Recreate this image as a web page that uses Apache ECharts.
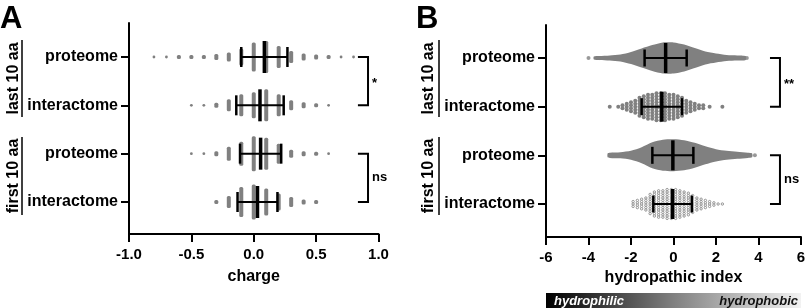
<!DOCTYPE html>
<html>
<head>
<meta charset="utf-8">
<script src="https://cdn.jsdelivr.net/npm/echarts@6/dist/echarts.min.js"></script>
<style>
  html, body { margin: 0; padding: 0; background: #fff; }
  #chart { width: 810px; height: 308px; }
</style>
</head>
<body>
<div id="chart"></div>
<script>
const rowNames = ['proteome', 'interactome', 'proteome', 'interactome']
const groupNames = ['last 10 aa', 'first 10 aa']

// A: net charge, number of dots stacked at each charge value
const chargeValues = [-0.8, -0.7, -0.6, -0.5, -0.4, -0.3, -0.2, -0.1, 0, 0.1, 0.2, 0.3, 0.4, 0.5, 0.6, 0.7, 0.8]
const chargeLastProteome = [1, 1, 2, 2, 2, 4, 7, 15, 27, 30, 20, 10, 5, 3, 2, 1, 1]
const chargeLastInteractome = [0, 0, 0, 1, 1, 3, 10, 20, 24, 30, 20, 8, 4, 2, 1, 0, 0]
const chargeFirstProteome = [0, 0, 0, 1, 1, 3, 12, 22, 33, 30, 18, 6, 3, 2, 1, 0, 0]
const chargeFirstInteractome = [0, 0, 0, 0, 0, 2, 10, 28, 33, 25, 15, 8, 3, 2, 0, 0, 0]
const chargeMean = [0.085, 0.05, 0.055, 0.03]
const chargeSD = [0.185, 0.19, 0.165, 0.16]

// B: hydropathic index, proteome rows as density outline (% of max)
const hydroLastProteomeX = [-3.75, -3.5, -3.0, -2.5, -2.0, -1.5, -1.0, -0.5, 0, 0.5, 1.0, 1.5, 2.0, 2.5, 3.0, 3.4]
const hydroLastProteomeD = [9, 12, 16, 22, 38, 60, 81, 97, 97, 84, 62, 40, 28, 19, 16, 12]
const hydroLastProteomeOut = [-4.0, 3.45]
const hydroFirstProteomeX = [-3.1, -3.0, -2.5, -2.0, -1.5, -1.0, -0.5, 0, 0.5, 1.0, 1.5, 2.0, 2.5, 3.0, 3.5, 3.7]
const hydroFirstProteomeD = [12, 16, 19, 28, 50, 81, 97, 100, 94, 78, 56, 38, 28, 22, 16, 12]
const hydroFirstProteomeOut = [3.83]
// B: interactome rows, dot counts per 0.2 bin
const hydroLastInterX = [-3.0, -2.6, -2.4, -2.2, -2.0, -1.8, -1.6, -1.4, -1.2, -1.0, -0.8, -0.6, -0.4, -0.2, 0.0, 0.2, 0.4, 0.6, 0.8, 1.0, 1.2, 1.4, 1.7, 2.3]
const hydroLastInterN = [1, 1, 2, 3, 4, 5, 7, 8, 9, 9, 10, 10, 10, 9, 9, 8, 7, 5, 4, 3, 2, 2, 1, 1]
const hydroFirstInterX = [-1.9, -1.7, -1.5, -1.3, -1.1, -0.9, -0.7, -0.5, -0.3, -0.1, 0.1, 0.3, 0.5, 0.7, 0.9, 1.1, 1.3, 1.5, 1.7, 1.9, 2.1, 2.3]
const hydroFirstInterN = [3, 4, 5, 6, 9, 11, 12, 12, 13, 13, 13, 12, 11, 10, 8, 6, 5, 4, 3, 2, 1, 1]
const hydroMean = [-0.37, -0.55, -0.03, -0.045]
const hydroSD = [0.99, 0.95, 0.965, 0.905]

const FONT = '"Liberation Sans", Arial, sans-serif'
const GRAY = '#808080'
const yRangeA = [-0.703, 3.662]
const yRangeB = [-0.678, 3.678]

function stackData (xs, counts, row) {
  let out = []
  xs.forEach((x, i) => { if (counts[i] > 0) out.push([x, row, counts[i]]) })
  return out
}

function chargeStacks (data) {
  return {
    type: 'custom', xAxisIndex: 0, yAxisIndex: 0, z: 2, silent: true,
    data: data,
    renderItem (params, api) {
      let p = api.coord([api.value(0), api.value(1)])
      let n = api.value(2)
      if (n <= 1) {
        return { type: 'circle', shape: { cx: p[0], cy: p[1], r: 1.4 }, style: { fill: GRAY } }
      }
      let h = n + 2
      return { type: 'rect', shape: { x: p[0] - 2, y: p[1] - h / 2, width: 4, height: h, r: 1.5 }, style: { fill: GRAY } }
    }
  }
}

function dotSwarm (data, r, gap, style) {
  return {
    type: 'custom', xAxisIndex: 1, yAxisIndex: 1, z: 2, silent: true,
    data: data,
    renderItem (params, api) {
      let p = api.coord([api.value(0), api.value(1)])
      let n = api.value(2)
      let children = []
      for (let i = 0; i < n; i++) {
        children.push({ type: 'circle', shape: { cx: p[0], cy: p[1] + (i - (n - 1) / 2) * gap, r: r }, style: Object.assign({}, style) })
      }
      return { type: 'group', children: children }
    }
  }
}

function violin (xs, dens, row) {
  return {
    type: 'custom', xAxisIndex: 1, yAxisIndex: 1, z: 2, silent: true,
    data: [[xs[0], row]],
    renderItem (params, api) {
      let top = []
      let bottom = []
      for (let i = 0; i < xs.length; i++) {
        let p = api.coord([xs[i], row])
        let h = dens[i] * 0.16
        top.push([p[0], p[1] - h])
        bottom.unshift([p[0], p[1] + h])
      }
      return { type: 'polygon', shape: { points: top.concat(bottom), smooth: 0.25 }, style: { fill: GRAY } }
    }
  }
}

function errorBars (means, sds, axis, capH, meanH) {
  return {
    type: 'custom', xAxisIndex: axis, yAxisIndex: axis, z: 5, silent: true,
    data: means.map((m, i) => [m, sds[i], i]),
    renderItem (params, api) {
      let m = api.value(0)
      let s = api.value(1)
      let r = api.value(2)
      let c = api.coord([m, r])
      let l = api.coord([m - s, r])
      let rr = api.coord([m + s, r])
      let st = (w) => ({ stroke: '#000', lineWidth: w })
      return {
        type: 'group',
        children: [
          { type: 'line', shape: { x1: l[0], y1: c[1], x2: rr[0], y2: c[1] }, style: st(2) },
          { type: 'line', shape: { x1: l[0], y1: c[1] - capH / 2, x2: l[0], y2: c[1] + capH / 2 }, style: st(2.5) },
          { type: 'line', shape: { x1: rr[0], y1: c[1] - capH / 2, x2: rr[0], y2: c[1] + capH / 2 }, style: st(2.5) },
          { type: 'line', shape: { x1: c[0], y1: c[1] - meanH / 2, x2: c[0], y2: c[1] + meanH / 2 }, style: st(3.5) }
        ]
      }
    }
  }
}

function brackets (items, axis, labelSize) {
  return {
    type: 'custom', xAxisIndex: axis, yAxisIndex: axis, z: 5, silent: true,
    data: items,
    renderItem (params, api) {
      let a = api.coord([api.value(0), api.value(2)])
      let b = api.coord([api.value(1), api.value(3)])
      let label = items[params.dataIndex][4]
      return {
        type: 'group',
        children: [
          { type: 'polyline', shape: { points: [[a[0], a[1]], [b[0], a[1]], [b[0], b[1]], [a[0], b[1]]] }, style: { stroke: '#000', lineWidth: 2, fill: null } },
          { type: 'text', x: b[0] + 4, y: (a[1] + b[1]) / 2 + (label.indexOf('*') >= 0 ? 2 : 0), style: { text: label, font: 'bold ' + labelSize + 'px ' + FONT, fill: '#000', textAlign: 'left', textVerticalAlign: 'middle' } }
        ]
      }
    }
  }
}

// left spine of a panel as a thin filled rect through the axis scale
function spine (axis, xMin, yr) {
  return {
    type: 'custom', xAxisIndex: axis, yAxisIndex: axis, z: 20, silent: true, clip: false,
    data: [[xMin, yr[0], yr[1]]],
    renderItem (params, api) {
      let a = api.coord([api.value(0), api.value(1)])
      let b = api.coord([api.value(0), api.value(2)])
      return { type: 'rect', shape: { x: a[0] - 1, y: Math.min(a[1], b[1]), width: 2, height: Math.abs(b[1] - a[1]) + 1 }, style: { fill: '#000' } }
    }
  }
}

function yAxisCfg (gridIndex, range) {
  return {
    type: 'value', gridIndex: gridIndex, inverse: true, min: range[0], max: range[1], position: 'left', z: 50,
    splitLine: { show: false },
    axisLine: { show: true, onZero: false, lineStyle: { color: '#000', width: 2 } },
    axisTick: { show: true, length: 8, lineStyle: { color: '#000', width: 2 }, customValues: [0, 1, 2, 3] },
    axisLabel: { show: true, customValues: [0, 1, 2, 3], formatter: (v) => rowNames[Math.round(v)], margin: 11, color: '#000', fontWeight: 'bold', fontSize: 16, fontFamily: FONT }
  }
}

function xAxisCfg (gridIndex, min, max, interval, name, nameGap, digits) {
  return {
    type: 'value', gridIndex: gridIndex, min: min, max: max, interval: interval,
    name: name, nameLocation: 'middle', nameGap: nameGap,
    nameTextStyle: { color: '#000', fontWeight: 'bold', fontSize: 16, fontFamily: FONT },
    splitLine: { show: false },
    axisLine: { show: true, onZero: false, lineStyle: { color: '#000', width: 2 } },
    axisTick: { show: true, length: 8, lineStyle: { color: '#000', width: 2 } },
    axisLabel: { show: true, margin: 13, color: '#000', fontWeight: 'bold', fontSize: 15, fontFamily: FONT, formatter: (v) => v.toFixed(digits) }
  }
}

function groupLabels (x, lineX) {
  let out = []
  let spans = [[40, 117], [137, 215]]
  spans.forEach((s, i) => {
    out.push({ type: 'text', x: x, y: (s[0] + s[1]) / 2, rotation: Math.PI / 2, style: { text: groupNames[i], font: 'bold 16px ' + FONT, fill: '#000', textAlign: 'center', textVerticalAlign: 'middle' } })
    out.push({ type: 'line', shape: { x1: lineX, y1: s[0], x2: lineX, y2: s[1] }, style: { stroke: '#000', lineWidth: 1.5 } })
  })
  return out
}

const chart = echarts.init(document.getElementById('chart'), null, { renderer: 'canvas' })

const option = {
  animation: false,
  backgroundColor: '#fff',
  grid: [
    { left: 129, right: 431.5, top: 23, height: 211 },
    { left: 546, right: 9, top: 25, height: 212 }
  ],
  xAxis: [
    xAxisCfg(0, -1, 1, 0.5, 'charge', 35, 1),
    xAxisCfg(1, -6, 6, 2, 'hydropathic index', 32, 0)
  ],
  yAxis: [
    yAxisCfg(0, yRangeA),
    yAxisCfg(1, yRangeB)
  ],
  series: [
    chargeStacks(stackData(chargeValues, chargeLastProteome, 0)),
    chargeStacks(stackData(chargeValues, chargeLastInteractome, 1)),
    chargeStacks(stackData(chargeValues, chargeFirstProteome, 2)),
    chargeStacks(stackData(chargeValues, chargeFirstInteractome, 3)),
    errorBars(chargeMean, chargeSD, 0, 20, 32),
    brackets([[0.835, 0.916, 0, 1, '*'], [0.835, 0.916, 2, 3, 'ns']], 0, 13),

    violin(hydroLastProteomeX, hydroLastProteomeD, 0),
    violin(hydroFirstProteomeX, hydroFirstProteomeD, 2),
    {
      type: 'scatter', xAxisIndex: 1, yAxisIndex: 1, symbolSize: 4, z: 2, silent: true,
      itemStyle: { color: GRAY },
      data: hydroLastProteomeOut.map(x => [x, 0]).concat(hydroFirstProteomeOut.map(x => [x, 2]))
    },
    dotSwarm(stackData(hydroLastInterX, hydroLastInterN, 1), 2, 3, { fill: GRAY }),
    dotSwarm(stackData(hydroFirstInterX, hydroFirstInterN, 3), 1.2, 2.4, { fill: '#fff', stroke: '#8a8a8a', lineWidth: 0.9 }),
    errorBars(hydroMean, hydroSD, 1, 17, 30),
    brackets([[4.54, 5.01, 0, 1, '**'], [4.54, 5.01, 2, 3, 'ns']], 1, 13),
    spine(0, -1, yRangeA),
    spine(1, -6, yRangeB)
  ],
  graphic: [
    { type: 'text', x: 0, y: 19, style: { text: 'A', font: 'bold 31px ' + FONT, fill: '#000', textAlign: 'left', textVerticalAlign: 'middle' } },
    { type: 'text', x: 416, y: 19, style: { text: 'B', font: 'bold 31px ' + FONT, fill: '#000', textAlign: 'left', textVerticalAlign: 'middle' } },
    ...groupLabels(14, 22),
    ...groupLabels(429, 439),
    { type: 'rect', z: 1000, shape: { x: 128, y: 23, width: 2, height: 212 }, style: { fill: '#000' } },
    { type: 'rect', z: 1000, shape: { x: 545, y: 25, width: 2, height: 213 }, style: { fill: '#000' } },
    {
      type: 'rect', shape: { x: 546, y: 293, width: 255, height: 15 },
      style: { fill: new echarts.graphic.LinearGradient(0, 0, 1, 0, [
        { offset: 0, color: '#000' }, { offset: 0.5, color: '#808080' }, { offset: 1, color: '#f2f2f2' }
      ]) }
    },
    { type: 'text', x: 554, y: 301, style: { text: 'hydrophilic', font: 'italic bold 13px ' + FONT, fill: '#fff', textAlign: 'left', textVerticalAlign: 'middle' } },
    { type: 'text', x: 798, y: 301, style: { text: 'hydrophobic', font: 'italic bold 13px ' + FONT, fill: '#111', textAlign: 'right', textVerticalAlign: 'middle' } }
  ]
}

chart.setOption(option)
</script>
</body>
</html>
